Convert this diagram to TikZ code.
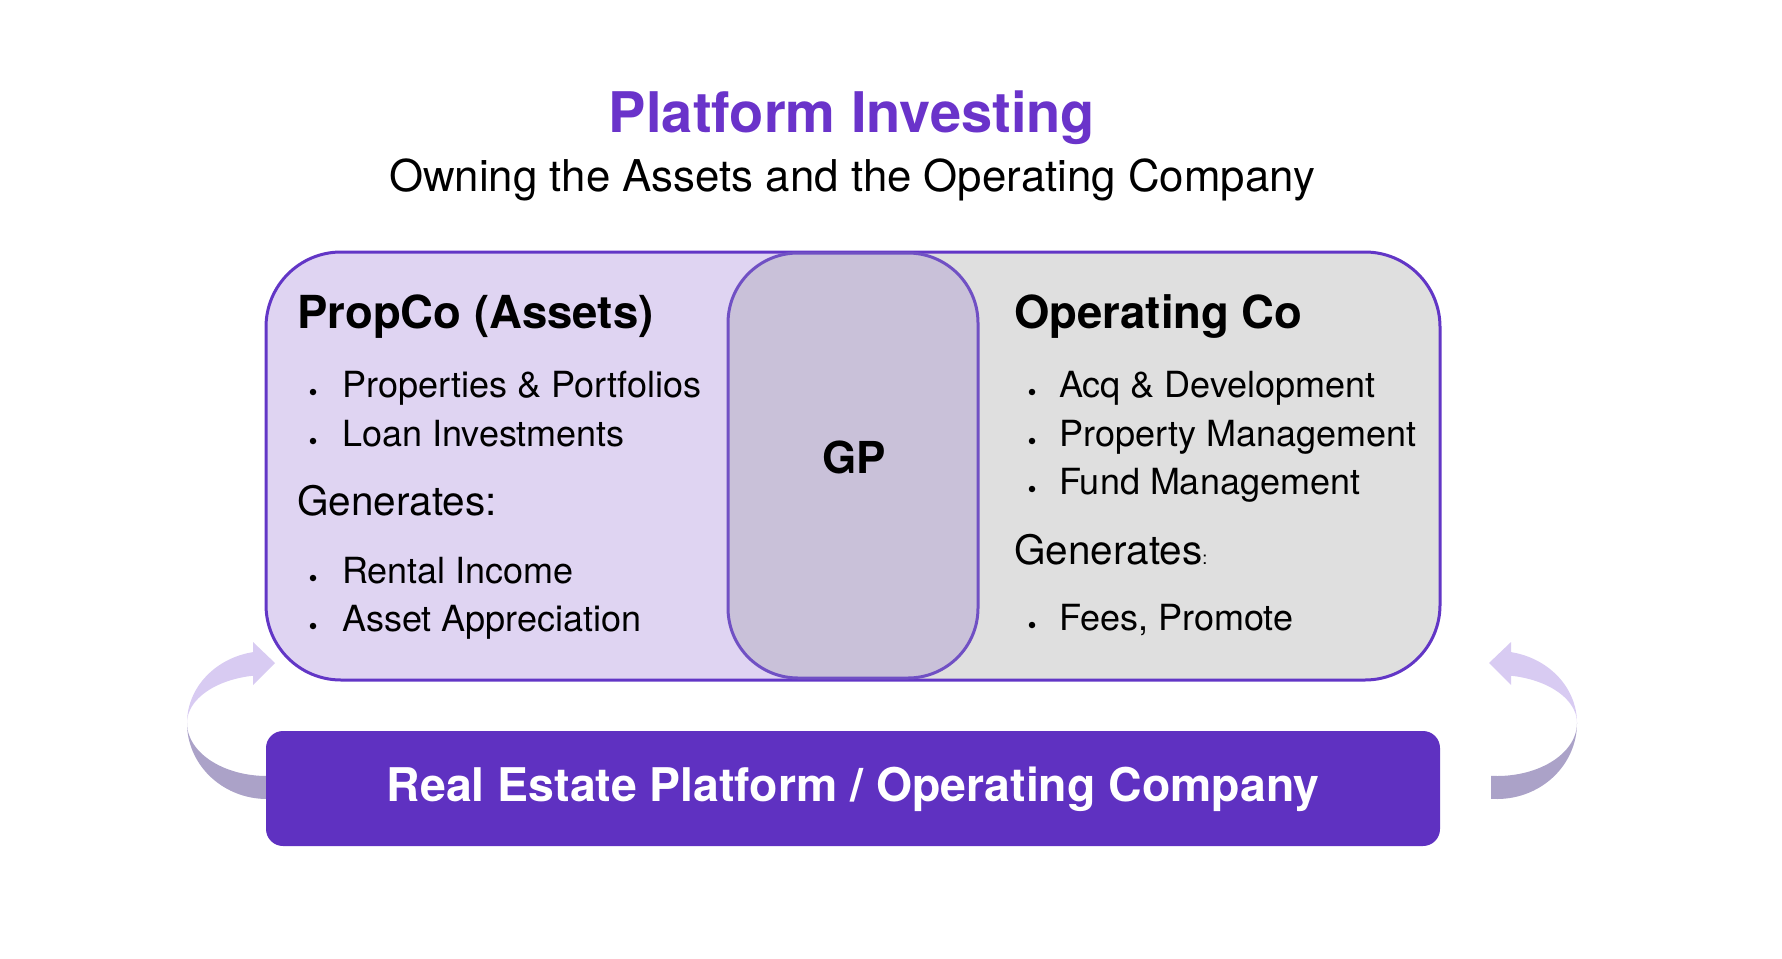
\documentclass[tikz,border=0pt]{standalone}
\usepackage{fontspec}
\setmainfont{TeX Gyre Heros}
\definecolor{titlepurple}{HTML}{6A33CA}
\definecolor{mainborder}{HTML}{6236C6}
\definecolor{propfill}{HTML}{DFD4F2}
\definecolor{opgray}{HTML}{DFDFDF}
\definecolor{gpfill}{HTML}{C9C1D9}
\definecolor{gpborder}{HTML}{7050C4}
\definecolor{barfill}{HTML}{5F31C1}
\definecolor{arrowlight}{HTML}{D8CBF2}
\definecolor{arrowdark}{HTML}{ABA2C8}
\tikzset{
  txt/.style={inner sep=0pt, anchor=base west, text=black},
  headtxt/.style={txt, font=\fontsize{45.5}{54}\selectfont\bfseries},
  itemtxt/.style={txt, font=\fontsize{36}{43}\selectfont},
  gentxt/.style={txt, font=\fontsize{40.5}{48}\selectfont},
  bulletdot/.style={circle, fill=black, inner sep=0pt, minimum size=6.5pt},
}
\begin{document}
\begin{tikzpicture}[x=1pt,y=-1pt]
\useasboundingbox (0,0) rectangle (1782,958);
% title
\node[inner sep=0pt, anchor=base, text=titlepurple, font=\fontsize{56}{67}\selectfont\bfseries] (title) at (852,132) {Platform Investing};
\node[inner sep=0pt, anchor=base, font=\fontsize{43.8}{52}\selectfont] (subtitle) at (852,191) {Owning the Assets and the Operating Company};
% curved arrows (left)
\fill[arrowdark] plot[domain=180:85.7, samples=40, variable=\t] ({267+80*cos(\t)},{723+76*sin(\t)})
  -- plot[domain=85.7:180, samples=40, variable=\t] ({267+80*cos(\t)},{723+53*sin(\t)}) -- cycle;
\fill[arrowlight] plot[domain=180:260, samples=40, variable=\t] ({267+80*cos(\t)},{723+72*sin(\t)})
  -- plot[domain=260:180, samples=40, variable=\t] ({267+80*cos(\t)},{723+48*sin(\t)}) -- cycle;
\coordinate (lh1) at (253,642);
\coordinate (lh2) at (275,663);
\coordinate (lh3) at (253,685);
\fill[arrowlight] (lh1) -- (lh2) -- (lh3) -- cycle;
% curved arrows (right)
\fill[arrowdark] plot[domain=180:85.7, samples=40, variable=\t] ({1497-80*cos(\t)},{723+76*sin(\t)})
  -- plot[domain=85.7:180, samples=40, variable=\t] ({1497-80*cos(\t)},{723+53*sin(\t)}) -- cycle;
\fill[arrowlight] plot[domain=180:260, samples=40, variable=\t] ({1497-80*cos(\t)},{723+72*sin(\t)})
  -- plot[domain=260:180, samples=40, variable=\t] ({1497-80*cos(\t)},{723+48*sin(\t)}) -- cycle;
\coordinate (rh1) at (1511,642);
\coordinate (rh2) at (1489,663);
\coordinate (rh3) at (1511,685);
\fill[arrowlight] (rh1) -- (rh2) -- (rh3) -- cycle;
% main box
\fill[opgray, rounded corners=75pt] (266,252) rectangle (1440,680);
\begin{scope}
  \clip (260,240) rectangle (853,690);
  \fill[propfill, rounded corners=75pt] (266,252) rectangle (1440,680);
\end{scope}
\draw[mainborder, line width=3pt, rounded corners=75pt] (266,252) rectangle (1440,680);
% GP box
\node[draw=gpborder, line width=3pt, fill=gpfill, rounded corners=70pt, minimum width=250pt, minimum height=425pt, inner sep=0pt] (gp) at (853,465.5) {};
\node[inner sep=0pt, anchor=base, font=\fontsize{44}{52}\selectfont\bfseries] (gptxt) at (854,473) {GP};
% left texts
\node[headtxt] (propco) at (297,328) {PropCo (Assets)};
\node[bulletdot] (lb1) at (313,392) {};
\node[itemtxt] (li1) at (342,397) {Properties \& Portfolios};
\node[bulletdot] (lb2) at (313,441) {};
\node[itemtxt] (li2) at (342,446) {Loan Investments};
\node[gentxt] (lgen) at (297,515) {Generates:};
\node[bulletdot] (lb3) at (313,578) {};
\node[itemtxt] (li3) at (342,583) {Rental Income};
\node[bulletdot] (lb4) at (313,626) {};
\node[itemtxt] (li4) at (342,631) {Asset Appreciation};
% right texts
\node[headtxt] (opco) at (1014,328) {Operating Co};
\node[bulletdot] (rb1) at (1032,392) {};
\node[itemtxt] (ri1) at (1059,397) {Acq \& Development};
\node[bulletdot] (rb2) at (1032,441) {};
\node[itemtxt] (ri2) at (1059,446) {Property Management};
\node[bulletdot] (rb3) at (1032,489) {};
\node[itemtxt] (ri3) at (1059,494) {Fund Management};
\node[gentxt] (rgen) at (1014,564) {Generates{\fontsize{18}{20}\selectfont:}};
\node[bulletdot] (rb4) at (1032,625) {};
\node[itemtxt] (ri4) at (1059,630) {Fees, Promote};
% bottom bar
\node[fill=barfill, rounded corners=17pt, minimum width=1174pt, minimum height=115pt, inner sep=0pt] (bar) at (853,788.5) {};
\node[inner sep=0pt, anchor=base, text=white, font=\fontsize{46.4}{55}\selectfont\bfseries] (bartxt) at (853,801) {Real Estate Platform / Operating Company};
\end{tikzpicture}
\end{document}
